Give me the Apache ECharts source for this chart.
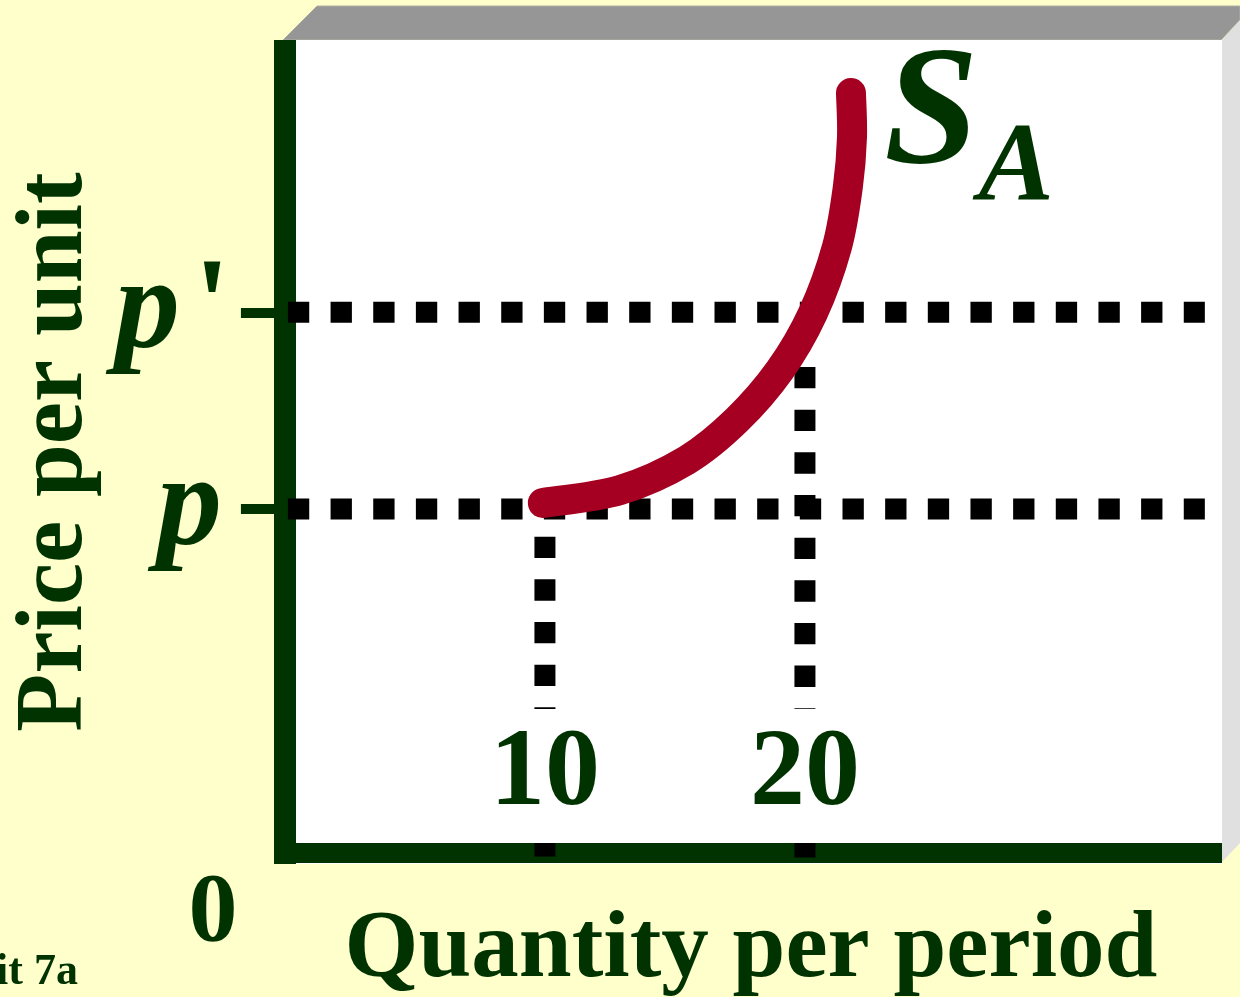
<!DOCTYPE html>
<html>
<head>
<meta charset="utf-8">
<title>Supply curve S_A</title>
<script src="https://cdn.jsdelivr.net/npm/echarts@6/dist/echarts.min.js"></script>
<style>
  html, body { margin: 0; padding: 0; background: #FFFFCC; }
  #chart { width: 1240px; height: 997px; }
</style>
</head>
<body>
<div id="chart"></div>
<script>
// Quantity values marked on the horizontal axis
const quantityMarks = [10, 20];
// Price levels p and p'
const priceLevels = [42.3, 66.5];
const priceNames = ['p', "p'"];
// Supply curve S_A (quantity, price)
const supplyQty = [9.92, 12.88, 15.46, 17.38, 19.04, 20.31, 21.23, 21.65, 21.81, 21.77];
const supplyPrice = [43.05, 44.65, 48.34, 53.26, 59.41, 66.42, 74.54, 81.92, 88.07, 93.48];
// Where the vertical guides start (price at which each begins) and end
const guideTop = [44.16, 59.78];
const guideBottom = -0.615;
// Horizontal guides span
const hGuideFrom = 0.115;
const hGuideTo = 35.38;

const GREEN = '#003300';
const SERIF = "'Liberation Serif', 'Times New Roman', serif";
const DOT = { color: '#000', width: 21, type: [21.33, 21.33], cap: 'butt' };

const chart = echarts.init(document.getElementById('chart'), null, { renderer: 'canvas' });

const series = [];

// dotted horizontal guides at p and p'
priceLevels.forEach(function (v, i) {
  series.push({
    type: 'line', name: 'guide-' + priceNames[i], silent: true, clip: false,
    symbol: 'none', z: 2, animation: false,
    lineStyle: DOT,
    data: [[hGuideFrom, v], [hGuideTo, v]]
  });
});

// dotted vertical guides at 10 and 20
quantityMarks.forEach(function (q, i) {
  series.push({
    type: 'line', name: 'guide-' + q, silent: true, clip: false,
    symbol: 'none', z: 2, animation: false,
    lineStyle: DOT,
    data: [[q, guideTop[i]], [q, guideBottom]]
  });
});

// quantity labels with white boxes
series.push({
  type: 'scatter', name: 'quantity labels', silent: true, z: 3, animation: false,
  symbolSize: 0,
  itemStyle: { opacity: 1 },
  data: quantityMarks.map(function (q) { return [q, 9.47]; }),
  label: {
    show: true, position: 'inside',
    formatter: function (p) { return String(p.value[0]); },
    backgroundColor: '#ffffff',
    width: 160, height: 134, lineHeight: 134,
    align: 'center', verticalAlign: 'middle',
    color: GREEN, fontFamily: SERIF, fontWeight: 'bold', fontSize: 110, opacity: 1
  }
});

// supply curve: a Catmull-Rom spline through the supply points, labelled S_A at its top end
function renderSupply(params, api) {
  const pts = supplyQty.map(function (q, i) { return api.coord([q, supplyPrice[i]]); });
  const n = pts.length;
  let d = 'M' + pts[0][0] + ' ' + pts[0][1];
  for (let i = 0; i < n - 1; i++) {
    const p0 = pts[Math.max(i - 1, 0)];
    const p1 = pts[i];
    const p2 = pts[i + 1];
    const p3 = pts[Math.min(i + 2, n - 1)];
    const c1x = p1[0] + (p2[0] - p0[0]) / 6, c1y = p1[1] + (p2[1] - p0[1]) / 6;
    const c2x = p2[0] - (p3[0] - p1[0]) / 6, c2y = p2[1] - (p3[1] - p1[1]) / 6;
    d += ' C' + c1x + ' ' + c1y + ' ' + c2x + ' ' + c2y + ' ' + p2[0] + ' ' + p2[1];
  }
  const end = pts[n - 1];
  return {
    type: 'group',
    children: [
      {
        type: 'path',
        shape: { pathData: d },
        style: { fill: null, stroke: '#A50021', lineWidth: 30, lineCap: 'round', lineJoin: 'round' }
      },
      {
        type: 'text',
        style: {
          text: '{s|S}{a|A}',
          x: end[0] + 33, y: end[1] + 25,
          align: 'left', verticalAlign: 'middle',
          rich: {
            s: { fontFamily: SERIF, fontStyle: 'italic', fontWeight: 'bold', fontSize: 170, fill: GREEN, lineHeight: 170, verticalAlign: 'top' },
            a: { fontFamily: SERIF, fontStyle: 'italic', fontWeight: 'bold', fontSize: 113, fill: GREEN, lineHeight: 113, padding: [105, 0, 0, 0] }
          }
        }
      }
    ]
  };
}

series.push({
  type: 'custom', name: 'S_A', silent: true, z: 4, animation: false, clip: false,
  renderItem: renderSupply,
  data: [[supplyQty[0], supplyPrice[0]]]
});

const option = {
  backgroundColor: '#FFFFCC',
  animation: false,
  grid: {
    left: 274, right: 18, top: 40, bottom: 133,
    outerBoundsMode: 'none', containLabel: false,
    show: true, backgroundColor: '#ffffff', borderWidth: 0
  },
  xAxis: {
    type: 'value', min: -0.42, max: 36.04,
    name: 'Quantity per period', nameLocation: 'middle', nameGap: 40,
    nameTextStyle: { color: GREEN, fontFamily: SERIF, fontWeight: 'bold', fontSize: 95, padding: [0, 0, 0, 6] },
    axisLine: { show: true, onZero: true, lineStyle: { color: GREEN, width: 20, cap: 'butt' } },
    axisTick: { show: false },
    axisLabel: { show: false },
    splitLine: { show: false }
  },
  yAxis: {
    type: 'value', min: -1.35, max: 100,
    name: 'Price per unit', nameLocation: 'middle', nameRotate: 90, nameGap: 166,
    nameTextStyle: { color: GREEN, fontFamily: SERIF, fontWeight: 'bold', fontSize: 95 },
    axisLine: { show: true, onZero: true, lineStyle: { color: GREEN, width: 22, cap: 'butt' } },
    axisTick: { show: true, customValues: priceLevels, length: 44, lineStyle: { color: GREEN, width: 10, cap: 'butt' } },
    axisLabel: {
      show: true, customValues: priceLevels, margin: 44,
      formatter: function (v) {
        const i = priceLevels.indexOf(v);
        const name = priceNames[i];
        return name.length > 1 ? '{pl|' + name.charAt(0) + '}{ap|' + name.slice(1) + '}' : '{p|' + name + '}';
      },
      rich: {
        p: { fontFamily: SERIF, fontStyle: 'italic', fontWeight: 'bold', fontSize: 130, color: GREEN, padding: [0, 8, 0, 0] },
        pl: { fontFamily: SERIF, fontStyle: 'italic', fontWeight: 'bold', fontSize: 130, color: GREEN },
        ap: { fontFamily: SERIF, fontStyle: 'normal', fontWeight: 'bold', fontSize: 130, color: GREEN, padding: [0, 0, 0, 14] }
      }
    },
    splitLine: { show: false }
  },
  graphic: [
    // top face of the frame
    { type: 'polygon', z: -1, shape: { points: [[283, 40], [317, 6], [1240, 6], [1240, 20], [1221, 40]] },
      style: { fill: '#969696', stroke: '#b0b0a0', lineWidth: 1 } },
    // right face of the frame
    { type: 'polygon', z: -1, shape: { points: [[1222, 40], [1240, 20], [1240, 843], [1222, 862]] },
      style: { fill: '#E0E0E0' } },
    { type: 'text', z: 5, style: { text: '0', x: 213, y: 915, align: 'center', verticalAlign: 'middle',
      fill: GREEN, font: "bold 98px 'Liberation Serif', 'Times New Roman', serif" } },
    { type: 'text', z: 5, style: { text: 'Exhibit 7a', x: 78, y: 973, align: 'right', verticalAlign: 'middle',
      fill: GREEN, font: "bold 44px 'Liberation Serif', 'Times New Roman', serif" } }
  ],
  series: series
};

chart.setOption(option);
</script>
</body>
</html>
